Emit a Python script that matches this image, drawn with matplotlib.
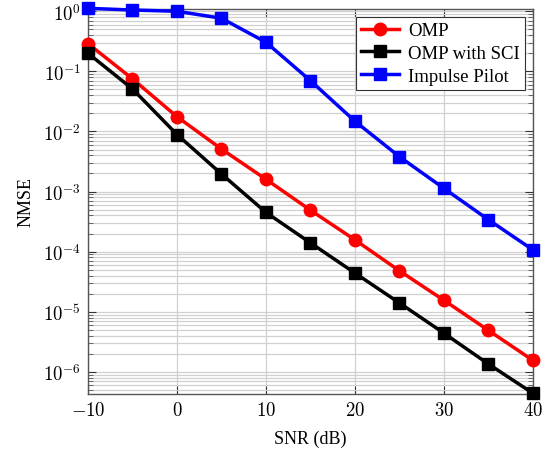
import matplotlib
matplotlib.use("Agg")
import matplotlib.pyplot as plt
import numpy as np
from matplotlib.ticker import LogLocator, FixedLocator, FuncFormatter, NullFormatter

snr = [-10, -5, 0, 5, 10, 15, 20, 25, 30, 35, 40]
omp = [0.29, 0.075, 0.0176, 0.0051, 0.0016, 4.9e-4, 1.57e-4, 4.8e-5, 1.55e-5, 4.9e-6, 1.55e-6]
omp_sci = [0.2, 0.051, 0.0089, 0.00196, 4.5e-4, 1.4e-4, 4.4e-5, 1.4e-5, 4.4e-6, 1.35e-6, 4.4e-7]
impulse = [1.12, 1.05, 1.0, 0.765, 0.305, 0.07, 0.0148, 0.0038, 0.00113, 3.4e-4, 1.07e-4]
xticks = [-10, 0, 10, 20, 30, 40]
yexps = [-6, -5, -4, -3, -2, -1, 0]

plt.rcParams['font.family'] = ['Liberation Serif', 'DejaVu Serif']
plt.rcParams['mathtext.fontset'] = 'cm'

fig = plt.figure(figsize=(5.5, 4.56), dpi=100)
ax = fig.add_axes([0.16, 0.134, 0.809, 0.844])

kw = dict(lw=2.5, ms=9, clip_on=False, zorder=3)
ax.plot(snr, omp, color='red', marker='o', label='OMP', **kw)
ax.plot(snr, omp_sci, color='black', marker='s', label='OMP with SCI', **kw)
ax.plot(snr, impulse, color='blue', marker='s', label='Impulse Pilot', **kw)

ax.set_yscale('log')
ax.set_xlim(-10, 40)
ax.set_ylim(4.3e-7, 1.09)
ax.xaxis.set_major_locator(FixedLocator(xticks))
ax.xaxis.set_major_formatter(FuncFormatter(lambda v, p: f"${int(v)}$"))
ax.yaxis.set_major_locator(FixedLocator([10.0 ** e for e in yexps]))
ax.yaxis.set_minor_locator(LogLocator(base=10, subs=np.arange(2, 10), numticks=20))
ax.yaxis.set_major_formatter(FuncFormatter(lambda v, p: f"$10^{{{int(round(np.log10(v)))}}}$"))
ax.yaxis.set_minor_formatter(NullFormatter())

ax.grid(True, which='major', axis='x', color='#d0d0d0', lw=0.9)
ax.grid(True, which='both', axis='y', color='#d0d0d0', lw=0.9)
ax.set_axisbelow(True)

ax.tick_params(which='major', direction='in', length=6, width=0.8, top=True, right=True,
               labelsize=13.5, colors='#333333', labelcolor='black', pad=5)
ax.tick_params(which='minor', direction='in', length=3.5, width=0.6, top=True, right=True,
               colors='#555555')
for s in ax.spines.values():
    s.set_color('#555555')
    s.set_linewidth(1.0)

ax.set_xlabel('SNR (dB)', fontsize=13, labelpad=8)
ax.set_ylabel('NMSE', fontsize=13, labelpad=6)

leg = ax.legend(loc='upper right', fontsize=13.5, fancybox=False, framealpha=1,
                edgecolor='#333333', borderaxespad=0.4, handlelength=2.0,
                labelspacing=0.3, borderpad=0.3, handletextpad=0.5)
leg.get_frame().set_linewidth(0.8)

fig.savefig('out.png', dpi=100)
